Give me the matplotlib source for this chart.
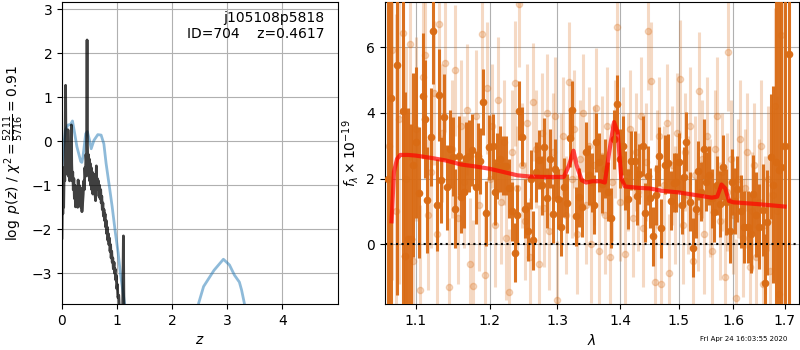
import matplotlib

matplotlib.use("Agg")
import matplotlib.pyplot as plt
from matplotlib.ticker import FixedLocator, NullLocator, FixedFormatter

# --- left panel: log p(z) curves ---
BLACK_Z = [0.000, 0.008, 0.015, 0.022, 0.030, 0.040, 0.050, 0.058, 0.065, 0.072,
           0.080, 0.087, 0.094, 0.100, 0.108, 0.115, 0.122, 0.130, 0.138, 0.146,
           0.155, 0.163, 0.170, 0.176, 0.185, 0.195, 0.205, 0.215, 0.225, 0.235,
           0.245, 0.255, 0.265, 0.275, 0.285, 0.293, 0.302, 0.312, 0.322, 0.332,
           0.342, 0.352, 0.362, 0.372, 0.385, 0.395, 0.405, 0.415, 0.425, 0.435,
           0.445, 0.455, 0.462, 0.470, 0.478, 0.486, 0.494, 0.502, 0.510, 0.520,
           0.530, 0.540, 0.550, 0.560, 0.570, 0.580, 0.590, 0.600, 0.610, 0.618,
           0.624, 0.632, 0.642, 0.652, 0.662, 0.672, 0.682, 0.692, 0.702, 0.712,
           0.722, 0.732, 0.742, 0.752, 0.762, 0.772, 0.782, 0.792, 0.802, 0.812,
           0.822, 0.832, 0.842, 0.852, 0.862, 0.872, 0.882, 0.892, 0.902, 0.912,
           0.922, 0.932, 0.945, 0.955, 0.965, 0.975, 0.985, 0.995, 1.005, 1.015,
           1.030, 1.045, 1.070, 1.100, 1.115, 1.125, 1.140]
BLACK_LOGP = [-2.2, -1.2, -1.65, -1.15, -1.5, -0.6, -0.9, 0.2, 1.27, -0.2,
              -0.6, -0.2, -0.75, -0.4, 0.26, -0.3, -0.8, -0.5, -0.9, -0.45,
              -0.8, -0.2, 0.37, -0.5, -0.9, -0.7, -1.1, -0.85, -1.3, -1.0,
              -1.49, -1.2, -1.4, -1.1, -1.5, -0.88, -1.2, -1.0, -1.35, -1.05,
              -1.5, -1.3, -1.6, -1.45, -1.2, -0.9, -1.1, -0.6, -0.8, -0.3,
              -0.5, 2.3, -0.1, -0.6, -0.3, -0.8, -0.4, -0.9, -0.5, -1.0,
              -0.6, -1.1, -0.7, -1.2, -0.8, -1.1, -0.75, -1.2, -1.35, -0.9,
              -0.56, -1.0, -0.85, -1.1, -0.9, -1.25, -1.0, -1.3, -1.1, -1.4,
              -1.25, -1.55, -1.4, -1.7, -1.55, -1.8, -1.65, -1.95, -1.8, -2.1,
              -1.95, -2.25, -2.1, -2.35, -2.2, -2.5, -2.35, -2.65, -2.5, -2.75,
              -2.65, -2.9, -2.75, -3.0, -2.9, -3.15, -3.05, -3.35, -3.25, -3.55,
              -3.5, -3.9, -4.1, -3.9, -2.15, -3.9, -5.0]

BLUE_Z = [0.00, 0.03, 0.06, 0.11, 0.155, 0.19, 0.22, 0.27, 0.34, 0.36, 0.38, 0.43,
          0.46, 0.50, 0.53, 0.58, 0.65, 0.71, 0.76, 0.80, 0.86, 0.91, 0.97, 1.02,
          1.06, 1.11, 1.14, 1.20, 2.40, 2.48, 2.57, 2.76, 2.93, 3.04, 3.13, 3.22,
          3.26, 3.31, 3.40]
BLUE_LOGP = [-0.58, -0.12, 0.25, 0.37, 0.38, 0.46, 0.25, -0.12, -0.46, -0.48, -0.36, 0.17,
             0.22, 0.02, -0.17, 0.02, 0.15, 0.14, -0.06, -0.5, -1.03, -1.48, -2.09, -2.54,
             -3.0, -3.45, -3.72, -6.0, -6.0, -3.68, -3.3, -2.93, -2.68, -2.81, -3.04, -3.2,
             -3.38, -3.68, -6.0]

# --- right panel: spectrum (dark = primary, light = secondary) ---
WAVE_DARK = [1.0642, 1.0688, 1.0764, 1.0832, 1.0866, 1.0900, 1.0935, 1.0969, 1.1005, 1.1047,
             1.1091, 1.1126, 1.1152, 1.1196, 1.1231, 1.1276, 1.1311, 1.1337, 1.1373, 1.1418,
             1.1455, 1.1494, 1.1526, 1.1570, 1.1605, 1.1641, 1.1668, 1.1713, 1.1750, 1.1804,
             1.1841, 1.1868, 1.1904, 1.1945, 1.1987, 1.2046, 1.2080, 1.2111, 1.2150, 1.2188,
             1.2235, 1.2280, 1.2322, 1.2361, 1.2398, 1.2428, 1.2467, 1.2515, 1.2555, 1.2595,
             1.2633, 1.2680, 1.2723, 1.2763, 1.2803, 1.2843, 1.2894, 1.2934, 1.2970, 1.3010,
             1.3052, 1.3099, 1.3150, 1.3192, 1.3234, 1.3286, 1.3329, 1.3392, 1.3455, 1.3497,
             1.3540, 1.3580, 1.3615, 1.3660, 1.3704, 1.3750, 1.3800, 1.3854, 1.3900, 1.3953,
             1.4000, 1.4040, 1.4086, 1.4131, 1.4186, 1.4243, 1.4277, 1.4321, 1.4379, 1.4423,
             1.4470, 1.4504, 1.4562, 1.4610, 1.4655, 1.4700, 1.4760, 1.4818, 1.4865, 1.4911,
             1.4959, 1.5005, 1.5053, 1.5101, 1.5137, 1.5196, 1.5257, 1.5304, 1.5353, 1.5400,
             1.5449, 1.5500, 1.5550, 1.5600, 1.5639, 1.5690, 1.5750, 1.5812, 1.5862, 1.5937,
             1.5980, 1.6025, 1.6074, 1.6140, 1.6202, 1.6279, 1.6331, 1.6381, 1.6440, 1.6498,
             1.6564, 1.6603, 1.6654, 1.6721, 1.6772, 1.6830, 1.6880, 1.6932, 1.7000, 1.7094]
FLUX_DARK = [2.0, 4.44, 5.45, 4.06, -0.36, 0.15, 0.15, 2.42, 3.1, 1.57,
             4.52, 3.82, 1.35, 3.26, 6.48, 1.21, 4.53, 1.96, 3.87, 1.73,
             2.9, 2.66, 1.08, 2.70, 1.45, 1.60, 2.63, 2.68, 2.88, 1.73,
             2.70, 2.53, 4.33, 0.94, 2.95, 2.98, 1.6, 2.39, 2.6, 2.39,
             2.39, 1.7, 1.01, -0.25, 0.90, 4.06, 3.27, 1.08, 0.40, 1.98,
             0.12, 2.2, 2.57, 1.79, 2.95, 1.41, 2.61, 0.93, 2.3, 1.38,
             0.53, 1.74, 1.25, 3.25, 4.08, 0.85, 1.43, 1.13, 2.82, 2.11,
             1.89, 1.2, 3.10, 2.50, 1.85, 2.3, 1.6, 0.80, 3.2, 4.26,
             2.6, 3.0, 1.94, 1.38, 2.54, 2.54, 1.48, 2.14, 2.99, 0.96,
             2.09, 1.41, 0.24, 1.5, 2.68, 0.49, 2.42, 2.46, 1.33, 1.87,
             1.89, 2.5, 1.21, 2.06, 3.12, 1.30, -0.10, 1.08, 2.24, 1.6,
             2.90, 1.9, 2.1, 1.4, 0.98, 1.79, 1.23, 2.34, 1.28, 0.42,
             1.9, 1.31, 1.68, 1.0, 0.52, 0.52, 0.32, 1.53, 0.9, 0.54,
             1.03, -1.18, 0.67, 2.67, 1.82, 2.5, 2.27, 2.34, 3.0, 5.78]
ERR_DARK = [9.0, 8.0, 7.0, 6.0, 5.0, 4.0, 3.5, 2.8, 2.3, 2.0,
            1.9, 1.8, 1.6, 1.5, 1.6, 1.4, 1.4, 1.3, 1.3, 1.3,
            1.2, 1.2, 1.2, 1.2, 1.1, 1.1, 1.1, 1.1, 1.1, 1.1,
            1.0, 1.0, 1.0, 1.0, 1.0, 1.0, 1.0, 1.0, 1.0, 0.9,
            0.9, 0.9, 0.9, 0.9, 0.9, 0.9, 0.9, 0.9, 0.9, 0.9,
            0.9, 0.9, 0.9, 0.9, 0.9, 0.9, 0.9, 0.9, 0.9, 0.9,
            0.9, 0.9, 0.9, 0.9, 0.9, 0.9, 0.9, 0.9, 0.9, 0.9,
            0.9, 0.9, 0.9, 0.9, 0.9, 0.9, 0.9, 0.9, 0.9, 0.9,
            0.9, 0.9, 0.9, 0.9, 0.9, 0.9, 0.9, 0.9, 0.9, 0.9,
            0.9, 0.9, 0.9, 0.9, 0.9, 0.9, 0.9, 0.9, 0.9, 0.9,
            0.9, 0.9, 0.9, 0.9, 0.9, 0.9, 0.9, 0.9, 0.9, 0.9,
            0.9, 0.9, 0.9, 0.9, 0.9, 0.9, 1.0, 1.0, 1.0, 1.0,
            1.0, 1.0, 1.0, 1.1, 1.1, 1.1, 1.2, 1.2, 1.3, 1.3,
            1.4, 1.5, 1.6, 1.9, 3.0, 5.0, 6.0, 7.0, 8.0, 9.0]

WAVE_LIGHT = [1.0660, 1.0700, 1.0745, 1.0790, 1.0840, 1.0880, 1.0920, 1.0960, 1.1000, 1.1056,
              1.1090, 1.1126, 1.1160, 1.1200, 1.1240, 1.1280, 1.1310, 1.1350, 1.1390, 1.1440,
              1.1480, 1.1520, 1.1560, 1.1600, 1.1640, 1.1680, 1.1720, 1.1770, 1.1810, 1.1850,
              1.1900, 1.1940, 1.1960, 1.2000, 1.2040, 1.2080, 1.2120, 1.2160, 1.2200, 1.2240,
              1.2280, 1.2320, 1.2360, 1.2400, 1.2430, 1.2470, 1.2510, 1.2550, 1.2590, 1.2630,
              1.2680, 1.2720, 1.2760, 1.2800, 1.2840, 1.2880, 1.2930, 1.2970, 1.3000, 1.3050,
              1.3090, 1.3130, 1.3180, 1.3220, 1.3260, 1.3300, 1.3350, 1.3400, 1.3440, 1.3490,
              1.3530, 1.3570, 1.3615, 1.3660, 1.3700, 1.3750, 1.3790, 1.3830, 1.3870, 1.3910,
              1.3950, 1.3990, 1.4040, 1.4080, 1.4130, 1.4170, 1.4210, 1.4260, 1.4300, 1.4350,
              1.4390, 1.4430, 1.4470, 1.4520, 1.4580, 1.4620, 1.4660, 1.4690, 1.4740, 1.4790,
              1.4840, 1.4880, 1.4930, 1.4970, 1.5020, 1.5070, 1.5110, 1.5160, 1.5210, 1.5250,
              1.5300, 1.5340, 1.5370, 1.5420, 1.5460, 1.5510, 1.5560, 1.5600, 1.5650, 1.5700,
              1.5750, 1.5790, 1.5840, 1.5880, 1.5910, 1.5960, 1.6000, 1.6050, 1.6090, 1.6130,
              1.6180, 1.6220, 1.6270, 1.6310, 1.6350, 1.6400, 1.6440, 1.6490, 1.6530, 1.6580,
              1.6620, 1.6670, 1.6710, 1.6760, 1.6800, 1.6850, 1.6890, 1.6930, 1.6970]
FLUX_LIGHT = [3.0, 5.9, 1.0, 3.8, 6.42, 2.0, 6.08, -0.5, 3.5, -1.39,
              5.1, 5.76, 0.9, 2.2, 4.6, 0.3, 6.69, 3.4, 5.52, -1.29,
              2.9, 5.29, 0.8, 3.6, 1.9, 4.1, -0.6, -1.26, 3.9, 1.2,
              6.41, -0.94, 4.75, 2.0, 3.6, 0.6, 4.4, 1.3, 3.1, 0.2,
              -1.44, 2.8, 4.9, 1.7, 7.3, 2.4, 0.7, 3.7, -0.4, 4.33,
              2.9, -0.6, 3.4, 1.1, 4.0, 0.4, 2.8, 3.9, -1.7, 2.2,
              3.3, 0.9, 4.95, 2.0, 3.5, 0.3, 2.6, 4.0, 1.2, 3.0,
              0.0, 2.4, 4.16, -0.2, 2.7, 0.9, 3.6, -0.4, 1.9, 3.2,
              6.6, 1.3, 3.0, -0.3, 2.2, 3.5, 0.8, 2.8, 1.6, 3.9,
              0.5, 2.5, 6.5, 4.97, -1.14, 2.3, 3.3, -1.21, 1.8, 3.7,
              -0.88, 2.4, 1.2, 3.4, 5.03, 0.6, 2.8, 1.5, 3.6, -0.5,
              2.1, 1.0, 4.65, 2.6, 0.3, 3.3, 1.4, -0.2, 2.9, 3.9,
              0.7, 2.2, -1.0, 1.6, 5.86, 2.6, 0.9, -1.63, 2.0, 3.2,
              0.2, 1.7, 2.8, -0.7, 1.0, 2.4, -0.4, 1.3, 3.0, -1.2,
              0.6, 2.0, -0.8, 1.5, 4.2, 1.0, -1.5, 6.38, 3.0]
ERR_LIGHT = [8.0, 7.0, 6.0, 5.0, 4.5, 4.0, 3.5, 3.0, 2.8, 2.6,
             2.5, 2.4, 2.3, 2.3, 2.2, 2.2, 2.2, 2.1, 2.1, 2.1,
             2.1, 2.0, 2.0, 2.0, 2.0, 2.0, 2.0, 2.0, 2.0, 2.0,
             2.0, 2.0, 2.0, 1.9, 1.9, 1.9, 1.9, 1.9, 1.9, 1.9,
             1.9, 1.9, 1.9, 1.9, 1.9, 1.9, 1.8, 1.8, 1.8, 1.8,
             1.8, 1.8, 1.8, 1.8, 1.8, 1.8, 1.8, 1.8, 1.8, 1.8,
             1.8, 1.8, 1.8, 1.8, 1.8, 1.8, 1.8, 1.8, 1.8, 1.8,
             1.8, 1.8, 1.8, 1.8, 1.8, 1.8, 1.8, 1.8, 1.8, 1.8,
             1.8, 1.8, 1.8, 1.8, 1.8, 1.8, 1.8, 1.8, 1.8, 1.8,
             1.8, 1.8, 1.8, 1.8, 1.8, 1.8, 1.8, 1.8, 1.8, 1.8,
             1.8, 1.8, 1.8, 1.8, 1.8, 1.8, 1.8, 1.8, 1.8, 1.8,
             1.8, 1.8, 1.8, 1.8, 1.8, 1.8, 1.8, 1.8, 1.8, 1.8,
             1.8, 1.8, 1.8, 1.8, 1.8, 1.8, 1.8, 1.8, 1.8, 1.8,
             1.8, 1.8, 1.8, 1.8, 1.8, 1.9, 1.9, 1.9, 2.0, 2.0,
             2.1, 2.2, 2.4, 2.6, 3.0, 3.5, 4.0, 5.0, 6.0]

MODEL_WAVE = [1.0690, 1.0720, 1.0760, 1.080, 1.090, 1.100, 1.120, 1.140, 1.160, 1.180,
              1.200, 1.220, 1.240, 1.260, 1.280, 1.300, 1.310, 1.318, 1.325, 1.330,
              1.338, 1.345, 1.355, 1.368, 1.375, 1.382, 1.390, 1.396, 1.402, 1.408,
              1.430, 1.450, 1.470, 1.500, 1.530, 1.560, 1.570, 1.578, 1.585, 1.592,
              1.600, 1.650, 1.700]
MODEL_FLUX = [0.7, 2.2, 2.6, 2.72, 2.72, 2.70, 2.63, 2.55, 2.43, 2.37,
              2.30, 2.20, 2.10, 2.06, 2.05, 2.05, 2.05, 2.4, 2.85, 2.4,
              1.95, 1.88, 1.92, 1.92, 1.88, 2.8, 3.72, 3.4, 2.0, 1.76,
              1.72, 1.70, 1.63, 1.58, 1.50, 1.42, 1.45, 1.82, 1.7, 1.32,
              1.28, 1.22, 1.15]

WAVE_TICKS = [1.1, 1.2, 1.3, 1.4, 1.5, 1.6, 1.7]
DARK_COLOR = "#d96b14"

fig = plt.figure(figsize=(8, 3.5), dpi=100)
ax1 = fig.add_axes([0.0775, 0.131, 0.345, 0.863])
ax2 = fig.add_axes([0.481, 0.131, 0.518, 0.863])

ax1.plot(BLUE_Z, BLUE_LOGP, color="tab:blue", alpha=0.5, lw=2)
ax1.plot(BLACK_Z, BLACK_LOGP, color="k", alpha=0.75, lw=2)
ax1.set_xlim(0, 5.01)
ax1.set_ylim(-3.70, 3.16)
ax1.set_xticks([0, 1, 2, 3, 4])
ax1.set_yticks([-3, -2, -1, 0, 1, 2, 3])
ax1.grid(True)
ax1.set_xlabel("$z$")
ax1.set_ylabel(r"$\log\ p(z)$ / $\chi^2=\frac{5211}{5716}=0.91$")
ax1.text(0.95, 0.97, "j105108p5818\nID=704    z=0.4617", transform=ax1.transAxes,
         ha="right", va="top", fontsize=10, linespacing=1.2)

ax2.errorbar(WAVE_LIGHT, FLUX_LIGHT, yerr=ERR_LIGHT, color=DARK_COLOR, alpha=0.25,
             marker="o", ms=4.5, linestyle="none", elinewidth=2.2, zorder=2)
ax2.errorbar(WAVE_DARK, FLUX_DARK, yerr=ERR_DARK, color=DARK_COLOR, alpha=0.95,
             marker="o", ms=4.5, linestyle="none", elinewidth=2.2, zorder=3)
ax2.plot(MODEL_WAVE, MODEL_FLUX, color="r", alpha=0.7, lw=3, zorder=4)
ax2.axhline(0, color="k", linestyle=":", lw=1.5, zorder=5)
ax2.set_xscale("log")
ax2.set_xlim(1.0605, 1.7295)
ax2.set_ylim(-1.82, 7.37)
ax2.xaxis.set_major_locator(FixedLocator(WAVE_TICKS))
ax2.xaxis.set_major_formatter(FixedFormatter([f"{w:.1f}" for w in WAVE_TICKS]))
ax2.xaxis.set_minor_locator(NullLocator())
ax2.set_yticks([0, 2, 4, 6])
ax2.grid(True)
ax2.set_xlabel(r"$\lambda$")
ax2.set_ylabel(r"$f_\lambda\times10^{-19}$")

fig.text(0.984, 0.031, "Fri Apr 24 16:03:55 2020", ha="right", va="center", fontsize=5)

fig.savefig("out.png", dpi=100)
